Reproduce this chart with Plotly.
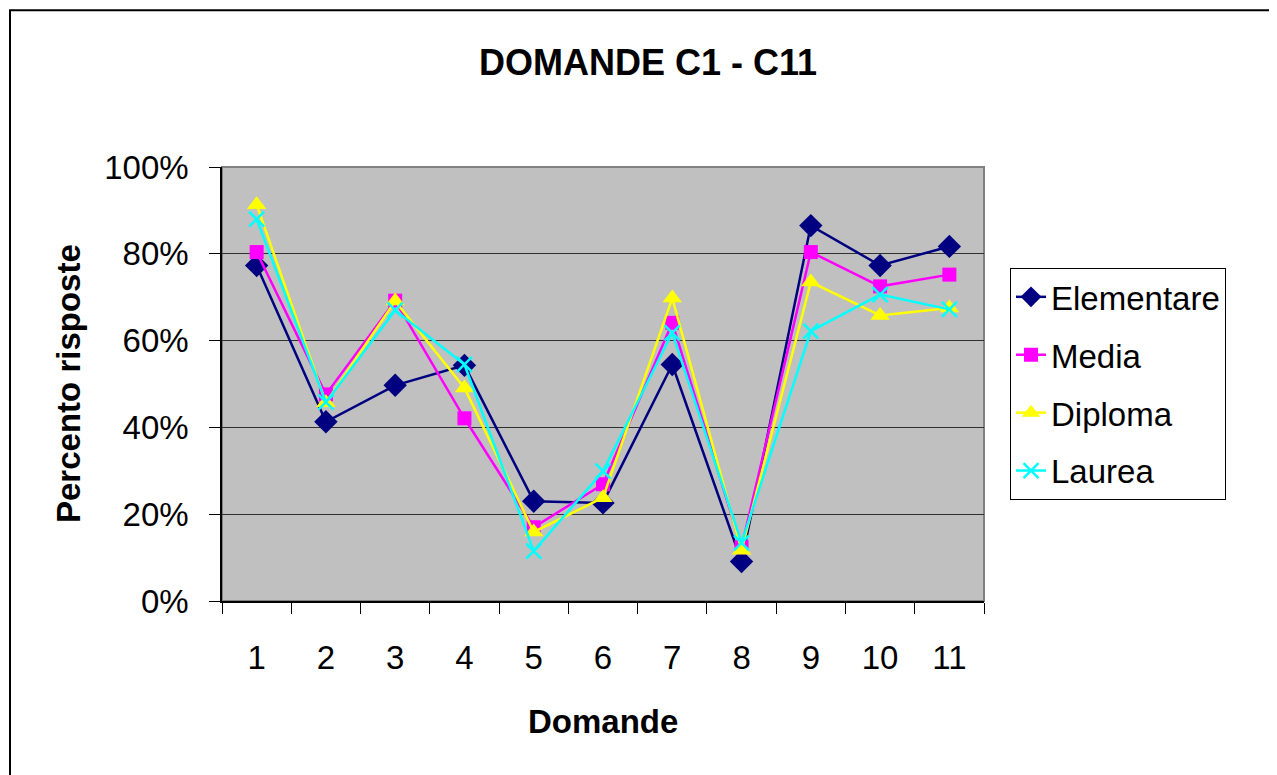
import plotly.graph_objects as go

categories = ["1", "2", "3", "4", "5", "6", "7", "8", "9", "10", "11"]
elementare = [0.773, 0.413, 0.497, 0.543, 0.230, 0.226, 0.545, 0.091, 0.865, 0.773, 0.817]
media      = [0.804, 0.476, 0.692, 0.421, 0.170, 0.269, 0.641, 0.124, 0.804, 0.725, 0.752]
diploma    = [0.913, 0.457, 0.691, 0.491, 0.159, 0.238, 0.698, 0.117, 0.735, 0.658, 0.675]
laurea     = [0.880, 0.458, 0.670, 0.545, 0.115, 0.299, 0.618, 0.134, 0.622, 0.706, 0.672]

series = [
    ("Elementare", elementare, "#000080", "diamond", 18),
    ("Media", media, "#FF00FF", "square", 14),
    ("Diploma", diploma, "#FFFF00", "triangle-up", 17),
    ("Laurea", laurea, "#00FFFF", "x-thin", 15),
]

FONT = "Liberation Sans, Arial, sans-serif"

fig = go.Figure()
for name, vals, color, sym, size in series:
    marker = dict(symbol=sym, size=size, color=color)
    if sym == "x-thin":
        marker["line"] = dict(color=color, width=2.5)
    fig.add_trace(go.Scatter(
        x=categories, y=vals, name=name, mode="lines+markers",
        line=dict(color=color, width=2.5), marker=marker,
        legendgroup=name,
    ))

# page body has an 8px margin; work in screen pixels and shift
OFF = 8
W, H = 1277, 775
L, T = 222 - OFF, 167 - OFF
R = W - (984 - OFF)
B = H - (601.5 - OFF)
pw = W - L - R
ph = H - T - B

def px_x(p):
    return (p - OFF - L) / pw

def px_y(p):
    return (H - B - (p - OFF)) / ph

fig.update_layout(
    width=W, height=H,
    margin=dict(l=L, r=R, t=T, b=B, autoexpand=False),
    paper_bgcolor="white", plot_bgcolor="#C0C0C0",
    font=dict(family=FONT, size=33, color="black"),
    title=dict(text="<b>DOMANDE C1 - C11</b>", x=(648 - OFF) / W, xref="container",
               xanchor="center", y=1 - (62 - OFF) / H, yref="container", yanchor="middle",
               font=dict(size=36, family=FONT, color="black")),
    showlegend=True,
    legend=dict(x=px_x(1010), y=px_y(268), xanchor="left", yanchor="top",
                bordercolor="black", borderwidth=1, bgcolor="white",
                font=dict(size=33, family=FONT), tracegroupgap=12,
                traceorder="grouped"),
    xaxis=dict(type="category", tickson="boundaries", ticks="outside", ticklen=11,
               tickcolor="black", showline=True, linecolor="black", linewidth=1.5,
               showgrid=False, ticklabelstandoff=27, range=[-0.5, 10.5],
               tickfont=dict(size=33)),
    yaxis=dict(range=[0, 1], dtick=0.2, tickformat=".0%", ticks="outside", ticklen=11,
               tickcolor="black", showline=True, linecolor="black", linewidth=1.5,
               showgrid=True, gridcolor="#303030", gridwidth=1, zeroline=False,
               ticklabelstandoff=14, tickfont=dict(size=33)),
    shapes=[
        dict(type="rect", xref="paper", yref="paper", x0=0, x1=1, y0=0, y1=1,
             line=dict(color="#808080", width=2), layer="below"),
        dict(type="rect", xref="paper", yref="paper", x0=px_x(10), x1=px_x(1300),
             y0=px_y(800), y1=px_y(10), line=dict(color="black", width=2)),
    ],
    annotations=[
        dict(text="<b>Domande</b>", xref="paper", yref="paper", x=0.5, y=px_y(722),
             xanchor="center", yanchor="middle", showarrow=False,
             font=dict(size=33, family=FONT)),
        dict(text="<b>Percento risposte</b>", xref="paper", yref="paper", x=px_x(68),
             y=0.5, xanchor="center", yanchor="middle", showarrow=False, textangle=-90,
             font=dict(size=33, family=FONT)),
    ],
)

fig.write_html("out.html")
